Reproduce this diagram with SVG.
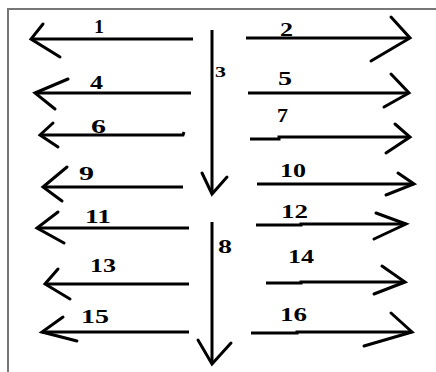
<svg xmlns="http://www.w3.org/2000/svg" width="436" height="372" viewBox="0 0 436 372">
<style>
.bd{stroke:#777;stroke-width:2;fill:none}
.sh{stroke:#000;stroke-width:3;fill:none;stroke-linecap:butt}
.hd{stroke:#000;stroke-width:3;fill:none;stroke-linecap:round;stroke-linejoin:miter}
.lb{font-family:"Liberation Serif","Times New Roman",serif;font-weight:bold;font-size:19px;fill:#000}
</style>
<rect width="436" height="372" fill="#fff"/>
<path class="bd" d="M8,372 V9 H436"/>
<g id="connectors">
<g id="a1"><line class="sh" x1="31" y1="39" x2="193" y2="39"/><polyline class="hd" points="43,24 31,39 60,57"/><text class="lb" x="94" y="33" textLength="10" lengthAdjust="spacingAndGlyphs">1</text></g>
<g id="a2"><line class="sh" x1="246" y1="38" x2="410" y2="38"/><polyline class="hd" points="391,17 410,38 371,61"/><text class="lb" x="280" y="36" textLength="13" lengthAdjust="spacingAndGlyphs">2</text></g>
<g id="a3"><line class="sh" x1="212" y1="30" x2="212" y2="194"/><polyline class="hd" points="202,173 212,194 227,177"/><text class="lb" x="215" y="77" style="font-size:15px" textLength="11" lengthAdjust="spacingAndGlyphs">3</text></g>
<g id="a4"><line class="sh" x1="35" y1="93" x2="191" y2="93"/><polyline class="hd" points="68,79 35,93 55,109"/><text class="lb" x="90" y="89" textLength="13" lengthAdjust="spacingAndGlyphs">4</text></g>
<g id="a5"><line class="sh" x1="248" y1="93" x2="409" y2="93"/><polyline class="hd" points="391,74 409,93 384,107"/><text class="lb" x="278" y="85" textLength="14" lengthAdjust="spacingAndGlyphs">5</text></g>
<g id="a6"><polyline class="sh" points="40,135 183,135 184,132"/><polyline class="hd" points="53,123 40,135 58,147"/><text class="lb" x="91" y="133" textLength="15" lengthAdjust="spacingAndGlyphs">6</text></g>
<g id="a7"><polyline class="sh" points="250,139 279,139 279,137 410,137"/><polyline class="hd" points="395,124 410,137 386,153"/><text class="lb" x="277" y="122" textLength="11" lengthAdjust="spacingAndGlyphs">7</text></g>
<g id="a9"><line class="sh" x1="43" y1="187" x2="183" y2="187"/><polyline class="hd" points="67,167 43,187 62,201"/><text class="lb" x="79" y="180" textLength="15" lengthAdjust="spacingAndGlyphs">9</text></g>
<g id="a10"><line class="sh" x1="257" y1="184" x2="414" y2="184"/><polyline class="hd" points="398,173 414,184 386,195"/><text class="lb" x="280" y="177" textLength="26" lengthAdjust="spacingAndGlyphs">10</text></g>
<g id="a11"><line class="sh" x1="37" y1="228" x2="189" y2="228"/><polyline class="hd" points="58,212 37,228 64,243"/><text class="lb" x="85" y="223" textLength="26" lengthAdjust="spacingAndGlyphs">11</text></g>
<g id="a12"><polyline class="sh" points="256,225 301,225 301,224 406,224"/><polyline class="hd" points="376,213 406,224 374,239"/><text class="lb" x="281" y="218" textLength="27" lengthAdjust="spacingAndGlyphs">12</text></g>
<g id="a13"><line class="sh" x1="45" y1="284" x2="189" y2="284"/><polyline class="hd" points="58,269 45,284 70,299"/><text class="lb" x="90" y="272" textLength="26" lengthAdjust="spacingAndGlyphs">13</text></g>
<g id="a14"><polyline class="sh" points="266,283 301,283 301,282 405,282"/><polyline class="hd" points="382,266 405,282 374,294"/><text class="lb" x="288" y="263" textLength="26" lengthAdjust="spacingAndGlyphs">14</text></g>
<g id="a15"><line class="sh" x1="42" y1="332" x2="189" y2="332"/><polyline class="hd" points="63,317 42,332 77,341"/><text class="lb" x="81" y="323" textLength="28" lengthAdjust="spacingAndGlyphs">15</text></g>
<g id="a16"><polyline class="sh" points="251,333 297,333 297,332 412,332"/><polyline class="hd" points="391,313 412,332 364,346"/><text class="lb" x="280" y="321" textLength="27" lengthAdjust="spacingAndGlyphs">16</text></g>
<g id="a8"><line class="sh" x1="212" y1="222" x2="212" y2="364"/><polyline class="hd" points="198,340 212,364 231,343"/><text class="lb" x="218" y="253" textLength="14" lengthAdjust="spacingAndGlyphs">8</text></g>
</g>
</svg>
